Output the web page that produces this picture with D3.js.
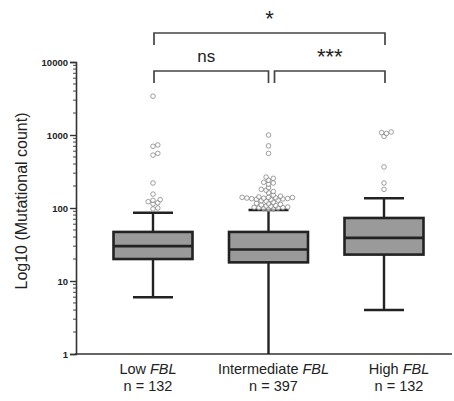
<!DOCTYPE html>
<html><head><meta charset="utf-8">
<script src="https://cdn.jsdelivr.net/npm/d3@7"></script>
<style>body{margin:0;background:#fff;}svg{display:block;font-family:Arial,"Liberation Sans",sans-serif;}</style>
</head><body><svg id="c" width="454" height="401"></svg>
<script>
const categories = ["Low", "Intermediate", "High"];
const counts = [132, 397, 132];
const whiskerLow = [6, 1, 4];
const q1 = [20, 18, 23];
const median = [30, 27, 39];
const q3 = [47, 47, 73];
const whiskerHigh = [86, 94, 136];
const outliersLow = [3400, 730, 700, 560, 530, 220, 155, 130, 127, 122, 118, 114, 100, 97];
const outliersIntermediate = [1000, 710, 560, 265, 255, 240, 225, 220, 212, 190, 180, 175, 168, 162, 150, 145, 142, 140, 140, 139, 138, 137, 136, 135, 134, 133, 132, 130, 128, 126, 124, 120, 116, 114, 112, 110, 108, 106, 105, 103, 102, 101, 100, 99, 98, 97, 96];
const outliersHigh = [1100, 1080, 1050, 960, 365, 220, 180];
const outliers = [outliersLow, outliersIntermediate, outliersHigh];
const yTicks = [1, 10, 100, 1000, 10000];
const comparisons = [
  {from: 0, to: 1, label: "ns", level: 0},
  {from: 1, to: 2, label: "***", level: 0},
  {from: 0, to: 2, label: "*", level: 1}
];

const svg = d3.select("#c");
const x = d3.scalePoint().domain(categories).range([153, 384]);
const xLabel = d3.scalePoint().domain(categories).range([148, 399]);
const y = d3.scaleLog().domain([1, 10000]).range([354, 62]);
const boxW = 79, capW = 40;
const dark = "#222";

// y axis
const yAxis = d3.axisLeft(y).tickValues(yTicks).tickFormat(d3.format("d")).tickSize(6).tickPadding(2);
const gy = svg.append("g").attr("transform", "translate(76,0)").call(yAxis);
gy.select(".domain").attr("stroke", "#333").attr("stroke-width", 1.6);
gy.selectAll(".tick line").attr("stroke", "#333").attr("stroke-width", 1.4);
gy.selectAll(".tick text").attr("font-size", 9.5).attr("font-weight", "bold").attr("fill", "#222");
// minor ticks
const minor = [];
for (let e = 0; e < 4; e++) for (let m = 2; m <= 9; m++) minor.push(m * Math.pow(10, e));
gy.selectAll(".minor").data(minor).enter().append("line")
  .attr("x1", -3).attr("x2", 0).attr("y1", d => y(d)).attr("y2", d => y(d))
  .attr("stroke", "#444").attr("stroke-width", 1);
// x axis line
svg.append("line").attr("x1", 75).attr("x2", 452).attr("y1", y(1)).attr("y2", y(1))
  .attr("stroke", "#333").attr("stroke-width", 1.6);

// y label
svg.append("text").attr("transform", "translate(27,201) rotate(-90)")
  .attr("text-anchor", "middle").attr("font-size", 16).attr("fill", "#222")
  .text("Log10 (Mutational count)");

// boxes
const g = svg.append("g");
categories.forEach((c, i) => {
  const cx = x(c);
  g.append("line").attr("x1", cx).attr("x2", cx).attr("y1", y(whiskerHigh[i])).attr("y2", y(q3[i])).attr("stroke", dark).attr("stroke-width", 2.4);
  g.append("line").attr("x1", cx).attr("x2", cx).attr("y1", y(q1[i])).attr("y2", y(whiskerLow[i])).attr("stroke", dark).attr("stroke-width", 2.4);
  g.append("line").attr("x1", cx - capW / 2).attr("x2", cx + capW / 2).attr("y1", y(whiskerHigh[i])).attr("y2", y(whiskerHigh[i])).attr("stroke", dark).attr("stroke-width", 2.4);
  if (whiskerLow[i] > 1) g.append("line").attr("x1", cx - capW / 2).attr("x2", cx + capW / 2).attr("y1", y(whiskerLow[i])).attr("y2", y(whiskerLow[i])).attr("stroke", dark).attr("stroke-width", 2.4);
  g.append("rect").attr("x", cx - boxW / 2).attr("width", boxW).attr("y", y(q3[i])).attr("height", y(q1[i]) - y(q3[i]))
    .attr("fill", "#9a9a9a").attr("stroke", dark).attr("stroke-width", 2.6);
  g.append("line").attr("x1", cx - boxW / 2).attr("x2", cx + boxW / 2).attr("y1", y(median[i])).attr("y2", y(median[i])).attr("stroke", dark).attr("stroke-width", 2.6);

  // outliers via simple dodge (beeswarm)
  const r = 2.3, placed = [];
  const vals = outliers[i].slice().sort((a, b) => a - b);
  vals.forEach(v => {
    const py = y(v);
    let off = 0, k = 0;
    while (true) {
      const cand = k === 0 ? 0 : (k % 2 ? 1 : -1) * Math.ceil(k / 2) * 2.4;
      const ok = placed.every(p => Math.hypot(p.x - cand, p.y - py) >= 2 * r * 0.72);
      if (ok) { off = cand; break; }
      k++;
    }
    placed.push({x: off, y: py});
  });
  g.selectAll(null).data(placed).enter().append("circle")
    .attr("cx", d => cx + d.x).attr("cy", d => d.y).attr("r", r)
    .attr("fill", "#fff").attr("fill-opacity", 0.6).attr("stroke", "#777").attr("stroke-width", 0.7);

  // x labels
  const lx = xLabel(c);
  const t = svg.append("text").attr("x", lx).attr("y", 374).attr("text-anchor", "middle").attr("font-size", 14.5).attr("fill", "#222");
  t.append("tspan").text(c + " ");
  t.append("tspan").attr("font-style", "italic").text("FBL");
  svg.append("text").attr("x", lx).attr("y", 391).attr("text-anchor", "middle").attr("font-size", 14.5).attr("fill", "#222").text("n = " + counts[i]);
});

// significance brackets
comparisons.forEach(cp => {
  const yb = cp.level === 0 ? 71 : 33;
  const yt = yb + 12;
  const x1 = x(categories[cp.from]) + (cp.from === 1 ? 6 : 1);
  const x2 = x(categories[cp.to]) + (cp.to === 1 ? 0 : 1);
  svg.append("path").attr("d", `M${x1},${yt}V${yb}H${x2}V${yt}`)
    .attr("fill", "none").attr("stroke", "#444").attr("stroke-width", 1.7);
  const isStar = cp.label.indexOf("*") >= 0;
  svg.append("text").attr("x", (x1 + x2) / 2 - (isStar ? 0 : 5)).attr("y", isStar ? yb - 7 : yb - 9)
    .attr("text-anchor", "middle").attr("font-size", isStar ? 22 : 17).attr("fill", "#222")
    .text(cp.label);
});
</script></body></html>
